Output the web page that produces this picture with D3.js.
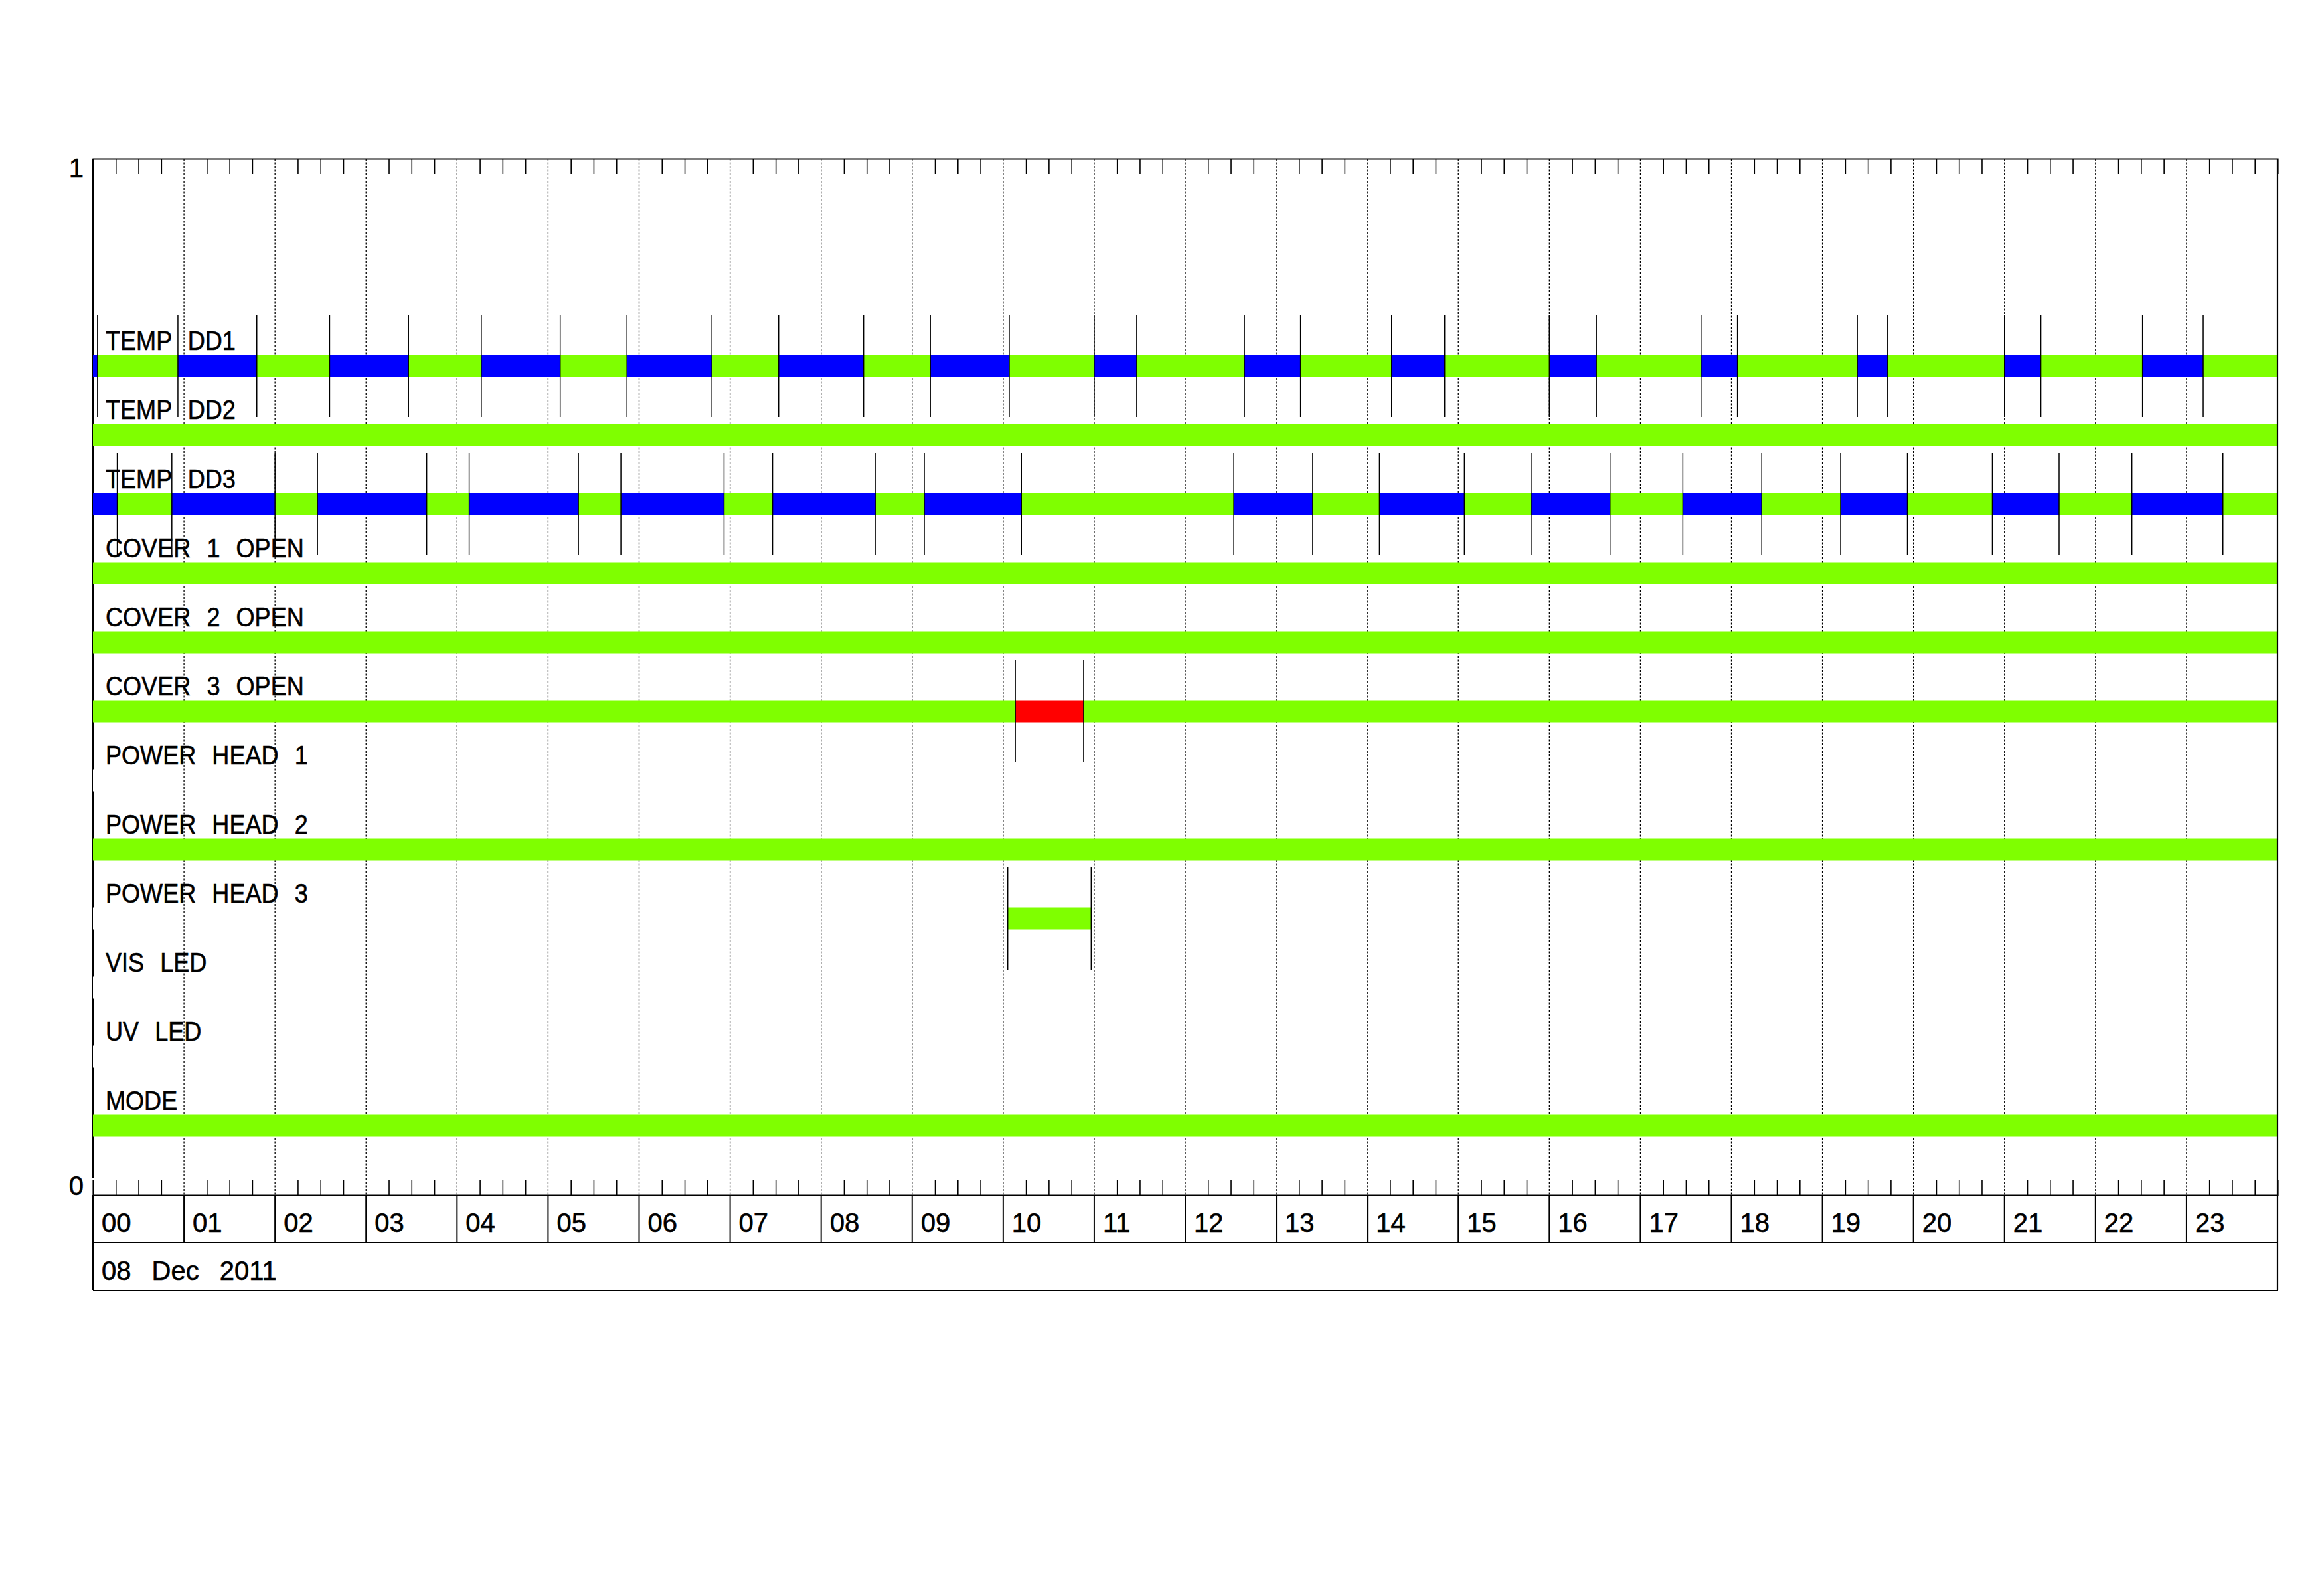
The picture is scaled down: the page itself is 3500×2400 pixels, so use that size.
<!doctype html>
<html>
<head>
<meta charset="utf-8">
<script src="https://d3js.org/d3.v7.min.js"></script>
<style>
  body { margin: 0; background: #fff; }
  text { font-family: "Liberation Sans", Arial, sans-serif; font-size: 40px; fill: #000;
         stroke: #000; stroke-width: 0.6px; }
  .lbl { font-size: 41px; word-spacing: 16px; }
</style>
</head>
<body>
<svg id="chart" width="3500" height="2400"></svg>
<script>
// ---- data ----------------------------------------------------------
const dayLabel = "08 Dec 2011";
const yTickLabels = ["0", "1"];

const rowNames = ["TEMP DD1", "TEMP DD2", "TEMP DD3", "COVER 1 OPEN", "COVER 2 OPEN",
  "COVER 3 OPEN", "POWER HEAD 1", "POWER HEAD 2", "POWER HEAD 3", "VIS LED", "UV LED", "MODE"];

// state change points per row: [time, state]
const tempDd1 = [["00:00","warn"],["00:03","ok"],["00:56","warn"],["01:48","ok"],["02:36","warn"],
  ["03:28","ok"],["04:16","warn"],["05:08","ok"],["05:52","warn"],["06:48","ok"],["07:32","warn"],
  ["08:28","ok"],["09:12","warn"],["10:04","ok"],["11:00","warn"],["11:28","ok"],["12:39","warn"],
  ["13:16","ok"],["14:16","warn"],["14:51","ok"],["16:00","warn"],["16:31","ok"],["17:40","warn"],
  ["18:04","ok"],["19:23","warn"],["19:43","ok"],["21:00","warn"],["21:24","ok"],["22:31","warn"],
  ["23:11","ok"]];
const tempDd2 = [["00:00","ok"]];
const tempDd3 = [["00:00","warn"],["00:16","ok"],["00:52","warn"],["02:00","ok"],["02:28","warn"],
  ["03:40","ok"],["04:08","warn"],["05:20","ok"],["05:48","warn"],["06:56","ok"],["07:28","warn"],
  ["08:36","ok"],["09:08","warn"],["10:12","ok"],["12:32","warn"],["13:24","ok"],["14:08","warn"],
  ["15:04","ok"],["15:48","warn"],["16:40","ok"],["17:28","warn"],["18:20","ok"],["19:12","warn"],
  ["19:56","ok"],["20:52","warn"],["21:36","ok"],["22:24","warn"],["23:24","ok"]];
const cover1 = [["00:00","ok"]];
const cover2 = [["00:00","ok"]];
const cover3 = [["00:00","ok"],["10:08","alarm"],["10:53","ok"]];
const powerHead1 = [["00:00","none"]];
const powerHead2 = [["00:00","ok"]];
const powerHead3 = [["00:00","none"],["10:03","ok"],["10:58","none"]];
const visLed = [["00:00","none"]];
const uvLed = [["00:00","none"]];
const mode = [["00:00","ok"]];

const rowChanges = [tempDd1, tempDd2, tempDd3, cover1, cover2, cover3,
  powerHead1, powerHead2, powerHead3, visLed, uvLed, mode];

// ---- setup ---------------------------------------------------------
const stateColor = { ok: "#7fff00", warn: "#0000ff", alarm: "#ff0000", none: "#ffffff" };

const dayStart = new Date(Date.UTC(2011, 11, 8));
const dayEnd = d3.utcDay.offset(dayStart, 1);
function toDate(hhmm) {
  const [h, m] = hhmm.split(":").map(Number);
  return d3.utcMinute.offset(dayStart, h * 60 + m);
}

const plotLeft = 140, plotRight = 3430, plotTop = 239, plotBottom = 1799;
const x = d3.scaleUtc().domain([dayStart, dayEnd]).range([plotLeft, plotRight]);
const y = d3.scaleLinear().domain([0, 1]).range([plotBottom, plotTop]);
const rowY = d3.scalePoint().domain(rowNames).range([y(12 / 15), y(1 / 15)]);
const barH = 33, markH = 77, tickLen = 23;

const svg = d3.select("#chart");
svg.append("rect").attr("width", 3500).attr("height", 2400).attr("fill", "#fff");

// build segments
const segments = [], marks = [];
rowChanges.forEach((changes, i) => {
  changes.forEach((c, j) => {
    const t0 = toDate(c[0]);
    const t1 = j + 1 < changes.length ? toDate(changes[j + 1][0]) : dayEnd;
    segments.push({ row: rowNames[i], state: c[1], t0, t1 });
    if (j > 0) marks.push({ row: rowNames[i], t: t0 });
  });
});

// left axis line
svg.append("line").attr("x1", plotLeft).attr("x2", plotLeft)
  .attr("y1", plotTop).attr("y2", plotBottom - tickLen - 3)
  .attr("stroke", "#000").attr("stroke-width", 2.2);

// empty (no data) segments
svg.append("g").selectAll("rect")
  .data(segments.filter(d => d.state === "none"))
  .join("rect")
  .attr("x", d => x(d.t0)).attr("width", d => x(d.t1) - x(d.t0))
  .attr("y", d => rowY(d.row) - barH / 2).attr("height", barH)
  .attr("fill", stateColor.none);

// hour grid
const hours = d3.utcHour.range(dayStart, dayEnd);
svg.append("g").selectAll("line")
  .data(hours.slice(1))
  .join("line")
  .attr("x1", d => x(d)).attr("x2", d => x(d))
  .attr("y1", plotTop).attr("y2", plotBottom)
  .attr("stroke", "#000").attr("stroke-width", 1.3)
  .attr("stroke-dasharray", "3,2.5");

// state bars
svg.append("g").selectAll("rect")
  .data(segments.filter(d => d.state !== "none"))
  .join("rect")
  .attr("x", d => x(d.t0)).attr("width", d => x(d.t1) - x(d.t0))
  .attr("y", d => rowY(d.row) - barH / 2).attr("height", barH)
  .attr("fill", d => stateColor[d.state]);

// change markers
svg.append("g").selectAll("line")
  .data(marks)
  .join("line")
  .attr("x1", d => x(d.t)).attr("x2", d => x(d.t))
  .attr("y1", d => rowY(d.row) - markH).attr("y2", d => rowY(d.row) + markH)
  .attr("stroke", "#000").attr("stroke-width", 1.5);

// frame and quarter-hour ticks
const quarters = d3.utcMinute.every(15).range(dayStart, dayEnd).filter(d => d.getUTCMinutes() !== 0);
svg.append("g").attr("transform", `translate(0,${plotTop})`)
  .call(d3.axisTop(x).tickValues(quarters).tickSize(-tickLen).tickFormat(""))
  .call(g => g.selectAll("line").attr("stroke-width", 1.6))
  .call(g => g.select(".domain").attr("stroke-width", 2.2));
svg.append("g").attr("transform", `translate(0,${plotBottom})`)
  .call(d3.axisBottom(x).tickValues(quarters).tickSize(-tickLen).tickFormat(""))
  .call(g => g.selectAll("line").attr("stroke-width", 1.6))
  .call(g => g.select(".domain").attr("stroke-width", 2.2));
svg.append("line").attr("x1", plotRight).attr("x2", plotRight)
  .attr("y1", plotTop).attr("y2", plotBottom + 144)
  .attr("stroke", "#000").attr("stroke-width", 2.2);

// hour label boxes
const boxH = 72;
svg.append("g").selectAll("line")
  .data(hours)
  .join("line")
  .attr("x1", d => x(d)).attr("x2", d => x(d))
  .attr("y1", plotBottom)
  .attr("y2", d => d.getTime() === dayStart.getTime() ? plotBottom + 2 * boxH : plotBottom + boxH)
  .attr("stroke", "#000").attr("stroke-width", 2);
[plotBottom + boxH, plotBottom + 2 * boxH].forEach(yy =>
  svg.append("line").attr("x1", plotLeft).attr("x2", plotRight).attr("y1", yy).attr("y2", yy)
    .attr("stroke", "#000").attr("stroke-width", 2));
svg.append("g").selectAll("text")
  .data(hours)
  .join("text")
  .attr("x", d => x(d) + 13).attr("y", plotBottom + 56)
  .text(d3.utcFormat("%H"));
svg.append("text").attr("x", plotLeft + 13).attr("y", plotBottom + boxH + 56)
  .style("word-spacing", "20px").text(dayLabel);

// y range labels
svg.append("g").selectAll("text")
  .data(yTickLabels)
  .join("text")
  .attr("x", 126).attr("text-anchor", "end")
  .attr("y", d => +d === 1 ? y(1) + 28 : y(0))
  .text(d => d);

// row labels (squeezed a little, like the plotter font)
svg.append("g").selectAll("text")
  .data(rowNames)
  .join("text")
  .attr("class", "lbl")
  .attr("transform", d => `translate(${plotLeft + 19},${rowY(d) - barH / 2 - 8}) scale(0.88,1)`)
  .text(d => d);
</script>
</body>
</html>
